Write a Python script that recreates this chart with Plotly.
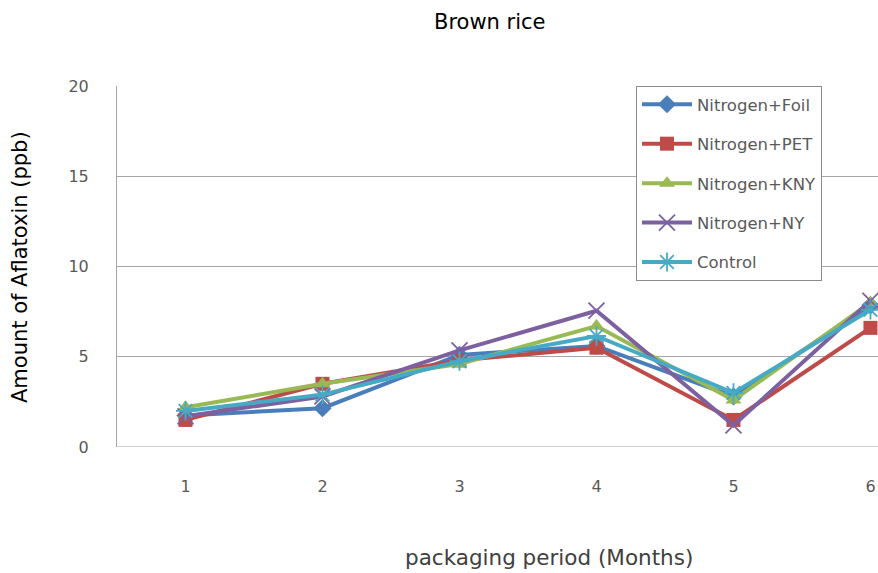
import plotly.graph_objects as go

months = [1, 2, 3, 4, 5, 6]
month_labels = ["1", "2", "3", "4", "5", "6"]
foil = [1.75, 2.15, 5.1, 5.6, 2.8, 7.85]
pet = [1.5, 3.5, 4.8, 5.5, 1.5, 6.6]
kny = [2.2, 3.5, 4.6, 6.7, 2.6, 8.0]
ny = [1.7, 2.8, 5.35, 7.55, 1.2, 8.1]
control = [2.0, 2.9, 4.75, 6.15, 3.0, 7.6]

series = [
    ("Nitrogen+Foil", foil, "#4A7EBB", "diamond", 14, 0),
    ("Nitrogen+PET", pet, "#BE4B48", "square", 14, 0),
    ("Nitrogen+KNY", kny, "#98B954", "triangle-up", 14, 0),
    ("Nitrogen+NY", ny, "#7D60A0", "x-thin", 16, 1.8),
    ("Control", control, "#46AAC5", "asterisk", 16, 1.8),
]

font = "DejaVu Sans"
fig = go.Figure()
for i, (name, vals, color, sym, size, lw) in enumerate(series):
    fig.add_trace(go.Scatter(
        x=months, y=vals, name=name, mode="lines+markers",
        legendgroup=f"g{i}",
        line=dict(color=color, width=4),
        marker=dict(symbol=sym, size=size, color=color,
                    line=dict(color=color, width=lw)),
    ))

W, H = 878, 573
L, T = 117, 86
PW, PH = 761, 361
fig.update_layout(
    width=W, height=H,
    paper_bgcolor="white", plot_bgcolor="white",
    margin=dict(l=L, r=W - L - PW, t=T, b=H - T - PH),
    font=dict(family=font, size=13, color="#595959"),
    showlegend=True,
    legend=dict(x=(636 - 117) / PW, y=1.0, xanchor="left", yanchor="top",
                bgcolor="white", bordercolor="#8C8C8C", borderwidth=1,
                font=dict(family=font, size=16.5, color="#595959"),
                tracegroupgap=15, itemwidth=50),
    annotations=[
        dict(text="Brown rice", xref="paper", yref="paper", x=(490 - 117) / PW,
             y=1 + (86 - 22) / PH, xanchor="center", yanchor="middle",
             showarrow=False, font=dict(family=font, size=21, color="black")),
        dict(text="packaging period (Months)", xref="paper", yref="paper",
             x=(549 - 117) / PW, y=-(557 - 447) / PH, xanchor="center",
             yanchor="middle", showarrow=False,
             font=dict(family=font, size=21.5, color="#404040")),
        dict(text="Amount of Aflatoxin (ppb)", xref="paper", yref="paper",
             x=-(117 - 20) / PW, y=1 - (267 - 86) / PH, xanchor="center",
             yanchor="middle", textangle=-90, showarrow=False,
             font=dict(family=font, size=21, color="black")),
    ],
)
fig.update_xaxes(
    tickmode="array", tickvals=months, ticktext=month_labels,
    range=[0.5, 6.055], showgrid=False, zeroline=False, automargin=False,
    showline=False, ticks="", ticklabelstandoff=28,
    tickfont=dict(family=font, size=16, color="#595959"),
)
fig.update_yaxes(
    range=[0, 20], tickvals=[0, 5, 10, 15, 20], automargin=False,
    showgrid=True, gridcolor="#A6A6A6", gridwidth=1,
    zeroline=False, showline=True, linecolor="#A6A6A6", linewidth=1,
    ticks="", ticklabelstandoff=24,
    tickfont=dict(family=font, size=16, color="#595959"),
)
fig.add_shape(type="line", xref="paper", yref="y", x0=0, x1=1, y0=0, y1=0,
              line=dict(color="#A6A6A6", width=1))

fig.write_html("out.html", config={"displayModeBar": False},
               post_script="document.body.style.margin='0';document.body.style.overflow='hidden';")
